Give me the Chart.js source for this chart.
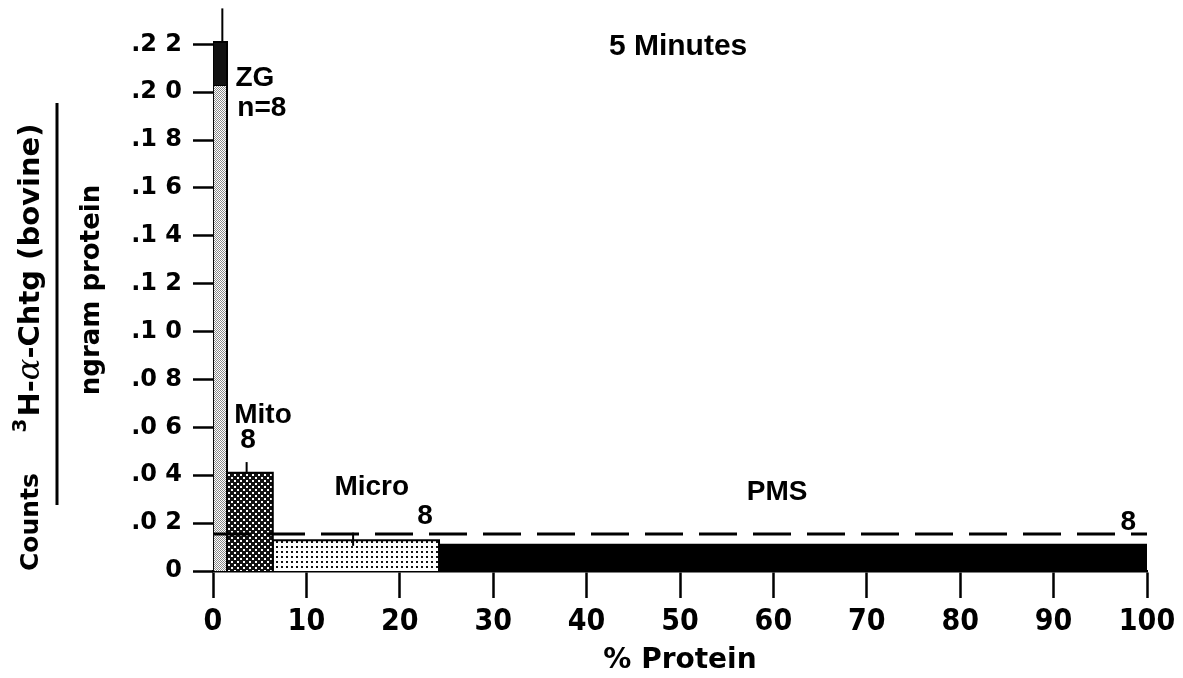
<!DOCTYPE html>
<html>
<head>
<meta charset="utf-8">
<script src="https://cdn.jsdelivr.net/npm/chart.js@4.4.1/dist/chart.umd.min.js"></script>
<style>
  html, body { margin: 0; padding: 0; background: #fff; }
  #wrap { width: 1183px; height: 678px; position: relative; }
</style>
</head>
<body>
<div id="wrap"><canvas id="fraction-chart"></canvas></div>
<script>
// subcellular fractions, cumulative % protein edges, relative activity
const fractionNames = ["ZG", "Mito", "Micro", "PMS"];
const proteinEdges = [0, 1.5, 6.4, 24.2, 100];
const relActivity = [0.203, 0.041, 0.0128, 0.011];
const zgBand = [0.203, 0.221];
const errX = [1.0, 3.6, 15.0];
const errLow = [0.221, 0.041, 0.0105];
const errHigh = [0.235, 0.0455, 0.016];
const homogenate = 0.0155;
const nLabels = ["n=8", "8", "8", "8"];

const xTicks = [0, 10, 20, 30, 40, 50, 60, 70, 80, 90, 100];
const yTicks = [0, 0.02, 0.04, 0.06, 0.08, 0.10, 0.12, 0.14, 0.16, 0.18, 0.20, 0.22];
const yTickLabels = ["0", ".0 2", ".0 4", ".0 6", ".0 8", ".1 0", ".1 2", ".1 4", ".1 6", ".1 8", ".2 0", ".2 2"];

function makePattern(size, bg, fg, dots) {
  const c = document.createElement("canvas");
  c.width = size; c.height = size;
  const g = c.getContext("2d");
  g.fillStyle = bg; g.fillRect(0, 0, size, size);
  g.fillStyle = fg;
  dots.forEach(d => g.fillRect(d[0], d[1], d[2], d[2]));
  return g.createPattern(c, "repeat");
}

const fills = [
  makePattern(2, "#fff", "#8a8a8a", [[0, 0, 1], [1, 1, 1]]),
  makePattern(6, "#111", "#fff", [[0, 0, 2], [3, 3, 2]]),
  makePattern(5, "#fff", "#111", [[1, 1, 2]]),
  "#000"
];

const datasets = [];

// dashed reference line
datasets.push({
  data: [{ x: 0, y: homogenate }, { x: 100, y: homogenate }],
  borderColor: "#000", borderWidth: 3, borderDash: [38, 16],
  pointRadius: 0, fill: false
});

// error whiskers
errX.forEach((x, i) => {
  datasets.push({
    data: [{ x: x, y: errLow[i] }, { x: x, y: errHigh[i] }],
    borderColor: "#000", borderWidth: 2, pointRadius: 0, fill: false
  });
});

// dark band on top of ZG
datasets.push({
  data: [
    { x: proteinEdges[0], y: zgBand[0] }, { x: proteinEdges[0], y: zgBand[1] },
    { x: proteinEdges[1], y: zgBand[1] }, { x: proteinEdges[1], y: zgBand[0] }
  ],
  borderColor: "#000", borderWidth: 2, backgroundColor: "#111",
  pointRadius: 0, tension: 0, fill: { value: zgBand[0] }
});

// fraction blocks
fractionNames.forEach((name, i) => {
  const x0 = proteinEdges[i], x1 = proteinEdges[i + 1], h = relActivity[i];
  datasets.push({
    label: name,
    data: [{ x: x0, y: 0 }, { x: x0, y: h }, { x: x1, y: h }, { x: x1, y: 0 }],
    borderColor: "#000", borderWidth: 2, backgroundColor: fills[i],
    pointRadius: 0, tension: 0, fill: "origin"
  });
});

const textPlugin = {
  id: "texts",
  afterDraw(chart) {
    const ctx = chart.ctx;
    const xs = chart.scales.x, ys = chart.scales.y;
    const put = (txt, x, y, align, font) => {
      ctx.font = font || "bold 28px 'Liberation Sans', Arial, sans-serif";
      ctx.textAlign = align || "center";
      ctx.textBaseline = "middle";
      ctx.fillText(txt, xs.getPixelForValue(x), ys.getPixelForValue(y));
    };
    ctx.save();
    ctx.fillStyle = "#000";
    put("5 Minutes", 49.8, 0.2188, "center", "bold 30px 'Liberation Sans', Arial, sans-serif");
    put(fractionNames[0], 2.4, 0.2058, "left");
    put(nLabels[0], 2.6, 0.1933, "left");
    put(fractionNames[1], 5.35, 0.0651);
    put(nLabels[1], 3.75, 0.0547);
    put(fractionNames[2], 17.0, 0.0351);
    put(nLabels[2], 22.7, 0.0230);
    put(fractionNames[3], 60.4, 0.0330);
    put(nLabels[3], 98.0, 0.0205);

    // y axis title drawn as a fraction, rotated
    const f = "bold 29px 'DejaVu Sans', sans-serif";
    const fa = "italic 32px 'DejaVu Serif', serif";
    ctx.textBaseline = "middle";
    ctx.save();
    ctx.translate(31, 522);
    ctx.rotate(-Math.PI / 2);
    ctx.textAlign = "center";
    ctx.font = "bold 25px 'DejaVu Sans', sans-serif";
    ctx.fillText("Counts", 0, 0);
    ctx.restore();

    ctx.save();
    ctx.translate(31, 278);
    ctx.rotate(-Math.PI / 2);
    ctx.textAlign = "left";
    const parts = ["H-", "α", "-Chtg (bovine)"];
    const supW = 16;
    ctx.font = f;
    const w0 = ctx.measureText(parts[0]).width;
    ctx.font = fa;
    const w1 = ctx.measureText(parts[1]).width;
    ctx.font = f;
    const w2 = ctx.measureText(parts[2]).width;
    let cx = -(supW + w0 + w1 + w2) / 2;
    ctx.font = "bold 20px 'DejaVu Sans', sans-serif";
    ctx.fillText("3", cx, -10);
    cx += supW;
    ctx.font = f;
    ctx.fillText(parts[0], cx, 0); cx += w0;
    ctx.font = fa;
    ctx.fillText(parts[1], cx, 0); cx += w1;
    ctx.font = f;
    ctx.fillText(parts[2], cx, 0);
    ctx.restore();

    ctx.beginPath();
    ctx.lineWidth = 3;
    ctx.strokeStyle = "#000";
    ctx.moveTo(57, 103);
    ctx.lineTo(57, 505);
    ctx.stroke();

    ctx.save();
    ctx.translate(92, 290);
    ctx.rotate(-Math.PI / 2);
    ctx.textAlign = "center";
    ctx.font = "bold 26px 'DejaVu Sans', sans-serif";
    ctx.fillText("ngram protein", 0, 0);
    ctx.restore();

    ctx.restore();
  }
};

const chart = new Chart(document.getElementById("fraction-chart").getContext("2d"), {
  type: "line",
  data: { datasets: datasets },
  plugins: [textPlugin],
  options: {
    responsive: true,
    maintainAspectRatio: false,
    animation: false,
    layout: { padding: { top: 6, right: 36, left: 0, bottom: 0 } },
    plugins: { legend: { display: false }, tooltip: { enabled: false } },
    scales: {
      x: {
        type: "linear",
        min: 0,
        max: 100,
        afterBuildTicks: axis => { axis.ticks = xTicks.map(v => ({ value: v })); },
        afterFit: axis => { axis.height = 107; axis.paddingLeft = 0; axis.paddingRight = 0; },
        grid: { drawOnChartArea: false, tickLength: 27, tickWidth: 2.5, tickColor: "#000" },
        border: { display: true, color: "#000", width: 2.5 },
        ticks: {
          color: "#000", padding: 6, maxRotation: 0,
          font: { family: "'Liberation Sans Narrow', 'DejaVu Sans Condensed', 'Liberation Sans', sans-serif", size: 30, weight: "bold" }
        },
        title: {
          display: true, text: "% Protein", color: "#000", padding: { top: 0, bottom: 0 },
          font: { family: "'DejaVu Sans', sans-serif", size: 28, weight: "bold" }
        }
      },
      y: {
        type: "linear",
        min: 0,
        max: 0.236,
        afterBuildTicks: axis => { axis.ticks = yTicks.map(v => ({ value: v })); },
        afterFit: axis => { axis.width = 213; axis.paddingTop = 0; axis.paddingBottom = 0; },
        grid: { drawOnChartArea: false, tickLength: 20, tickWidth: 2.5, tickColor: "#000" },
        border: { display: false },
        ticks: {
          color: "#000", padding: 11,
          callback: (v, i) => yTickLabels[i],
          font: { family: "'DejaVu Sans', sans-serif", size: 24, weight: "bold" }
        }
      }
    }
  }
});
</script>
</body>
</html>
